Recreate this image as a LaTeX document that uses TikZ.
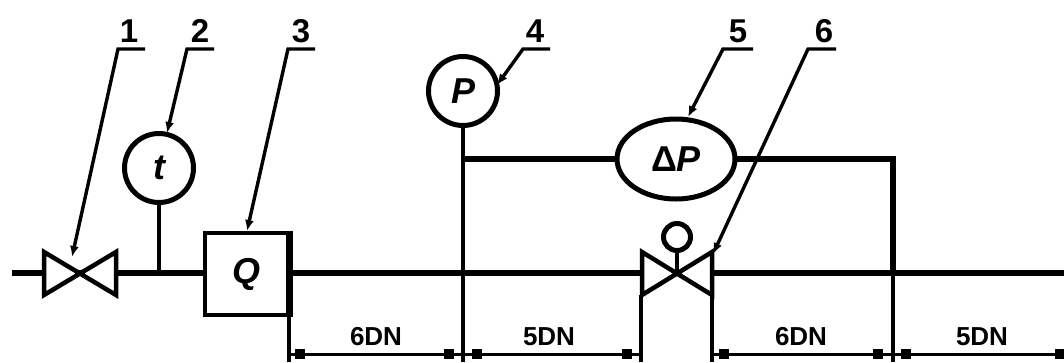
\documentclass[tikz,border=0pt]{standalone}
\usepackage{fontspec}
\usetikzlibrary{shapes.geometric,arrows.meta}
\setmainfont{Liberation Sans}
\tikzset{
  thickline/.style={line width=6.6pt},
  medline/.style={line width=4pt},
  thinline/.style={line width=3.6pt},
  leader/.style={line width=3.4pt,-{Latex[length=11pt,width=9pt]}},
  symbol/.style={draw,line width=5pt,fill=white,inner sep=0pt},
  numlabel/.style={font=\bfseries\fontsize{33}{33}\selectfont,inner sep=0pt},
  dimlabel/.style={font=\bfseries\fontsize{26}{26}\selectfont,inner sep=0pt},
  letter/.style={font=\bfseries\itshape\fontsize{36}{36}\selectfont,inner sep=0pt},
}
\begin{document}
\begin{tikzpicture}[x=1pt,y=-1pt]
\useasboundingbox (0,0) rectangle (1064,362);
\coordinate (pipeL) at (12,273);
\coordinate (pipeR) at (1064,273);
\coordinate (v2) at (677,273);
\coordinate (st) at (159,273);
\coordinate (h1) at (463,159);
\coordinate (h2) at (893,159);
\coordinate (jd) at (893,273);
\coordinate (bP) at (463,362);
\coordinate (bQ) at (289,362);
\coordinate (bV1) at (641,362);
\coordinate (bV2) at (712,362);
\coordinate (bD) at (893,362);
% main pipe
\draw[thickline] (pipeL) -- (pipeR);
% instruments
\node[symbol,circle,minimum size=69pt] (T) at (159,168) {};
\node[letter] at (T) {t};
\draw[medline] (T) -- (st);
\node[draw,line width=4pt,fill=white,minimum width=83pt,minimum height=82pt,inner sep=0pt] (Q) at (246,274) {};
\node[letter] at (Q) {Q};
\draw[line width=6pt] (Q.north east) -- (Q.south east);
\node[symbol,circle,minimum size=69pt] (P) at (463,91) {};
\node[letter] at (P) {P};
\draw[thickline,line join=miter] (h1) -- (h2) -- (jd);
\draw[thinline] (P) -- (bP);
\draw[thinline] (jd) -- (bD);
\node[symbol,ellipse,minimum width=118pt,minimum height=80pt] (DP) at (676,159) {};
\node[letter] at (DP) {{\upshape Δ}P};
% valves
\draw[line width=4.5pt,fill=white,line join=miter] (44,252) -- (116,295) -- (116,252) -- (44,295) -- cycle;
\draw[line width=4.5pt,fill=white,line join=miter] (642,252) -- (712,295) -- (712,252) -- (642,295) -- cycle;
\node[draw,circle,line width=5pt,minimum size=27pt,inner sep=0pt] (handle) at (677,237) {};
\draw[medline] (handle) -- (v2);
% witness lines
\draw[thinline] (289,316) -- (bQ);
\draw[thinline] (641,295) -- (bV1);
\draw[thinline] (712,295) -- (bV2);
% dimension lines
\foreach \a/\b/\t/\mx in {289/463/6DN/376,463/641/5DN/549,712/893/6DN/801,893/1064/5DN/982}{
  \draw[line width=3pt] (\a,354) -- (\b,354);
  \node[dimlabel] at (\mx,337) {\t};
}
\foreach \x in {300,449,477,627,724,878,906,1060}{
  \fill (\x-5,349) rectangle (\x+5,359);
}
% leaders
\foreach \n/\xa/\xb/\xt/\yt/\lx in {1/118/145/72/257/129,2/187/214/167/133/200,3/288/315/247/231/301,4/523/550/497/85/535,5/723/753/688/117/738,6/808/836/713/254/824}{
  \draw[leader] (\xb,49) -- (\xa,49) -- (\xt,\yt);
  \node[numlabel] at (\lx,31) {\n};
}
\end{tikzpicture}
\end{document}
